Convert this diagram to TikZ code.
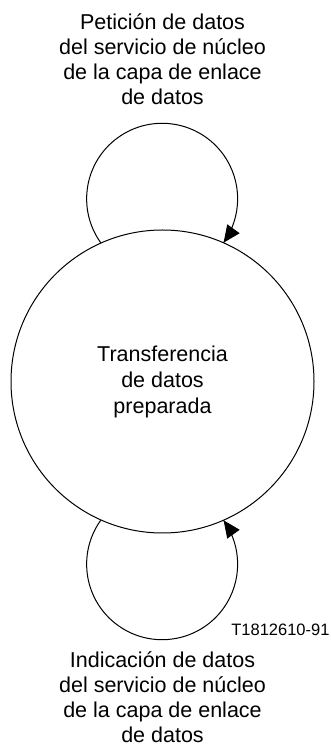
\documentclass[tikz,border=0pt]{standalone}
\usepackage{fontspec}
\setmainfont{Liberation Sans}
\usepackage{tikz}
\usetikzlibrary{arrows.meta}
\usetikzlibrary{decorations.markings}
\tikzset{arr/.style = {decoration={markings,
                                   mark=at position 1 with {\arrow{Triangle[length=17pt, width=15pt]}}},
                       postaction={decorate}}}
\tikzset{stat/.style = {draw, circle, inner sep = 0, minimum size = 303pt}}
\tikzset{lbl/.style = {align = center, inner sep = 0, font = \fontsize{21.5}{25}\selectfont}}

\begin{document}
\begin{tikzpicture}[x = 1pt, y = 1pt, line width = 1pt]
      \useasboundingbox (0, 0) rectangle (331, 747);

      \node [stat, lbl, font = \fontsize{21.5}{26}\selectfont] (st) at (162.5, 365.5)
            {Transferencia\\de datos\\preparada};

      \draw [arr] (st.114.3) arc [start angle = 215.5, end angle = -35.5, radius = 75.5];
      \draw [arr] (st.-114.3) arc [start angle = 144.5, end angle = 395.5, radius = 75.5];

      \node [lbl] (req) at (162.5, 688) {Petición de datos\\del servicio de núcleo\\de la capa de enlace\\de datos};
      \node [lbl] (ind) at (162.5, 50) {Indicación de datos\\del servicio de núcleo\\de la capa de enlace\\de datos};

      \node [anchor = base east, inner sep = 0, font = \fontsize{16.5}{18}\selectfont] (ref) at (330, 111.3) {T1812610-91};
    \end{tikzpicture}
\end{document}
